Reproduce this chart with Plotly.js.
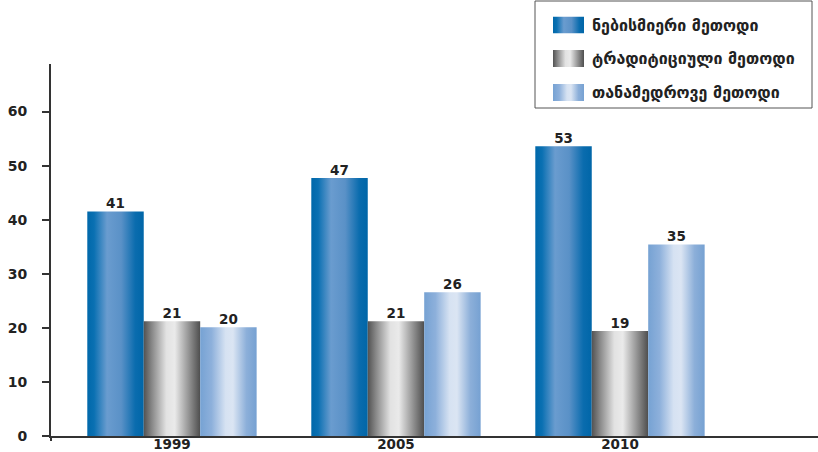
<!DOCTYPE html>
<html>
<head>
<meta charset="utf-8">
<script src="https://cdn.plot.ly/plotly-3.0.1.min.js"></script>
<style>html,body{margin:0;padding:0;background:#fff;}#chart{width:818px;height:452px;}</style>
</head>
<body>
<div id="chart"></div>
<script>
var years = ["1999", "2005", "2010"];
var seriesNames = ["ნებისმიერი მეთოდი", "ტრადიტიციული მეთოდი", "თანამედროვე მეთოდი"];
var anyMethod = [41.5, 47.7, 53.6];
var traditional = [21.2, 21.2, 19.4];
var modern = [20.1, 26.6, 35.4];
var anyLabels = ["41", "47", "53"];
var tradLabels = ["21", "21", "19"];
var modernLabels = ["20", "26", "35"];
var yTicks = [0, 10, 20, 30, 40, 50, 60];

var seriesValues = [anyMethod, traditional, modern];
var seriesLabels = [anyLabels, tradLabels, modernLabels];
var gradients = [
  [[0,'#0068aa'],[0.12,'#0a70b2'],[0.35,'#6a9ccf'],[0.6,'#5a91c7'],[0.85,'#0a6cae'],[1,'#0066a8']],
  [[0,'#525252'],[0.15,'#8a8a8a'],[0.4,'#e2e2e2'],[0.55,'#eaeaea'],[0.78,'#9a9a9a'],[1,'#4e4e4e']],
  [[0,'#76a2d3'],[0.2,'#8db0db'],[0.45,'#d6e2f2'],[0.58,'#dbe5f3'],[0.82,'#8cafd9'],[1,'#76a1d2']]
];
var barWidth = 0.252;
var offsets = [-0.252, 0, 0.252];

var traces = [];
var labelX = [], labelY = [], labelT = [];
for (var s = 0; s < 3; s++) {
  for (var i = 0; i < years.length; i++) {
    var v = seriesValues[s][i];
    var x0 = i + offsets[s] - barWidth / 2;
    var x1 = x0 + barWidth;
    traces.push({
      type: 'scatter', mode: 'lines',
      x: [x0, x1, x1, x0, x0], y: [0, 0, v, v, 0],
      fill: 'toself', line: {width: 0, color: 'rgba(0,0,0,0)'},
      fillgradient: {type: 'horizontal', colorscale: gradients[s]},
      name: seriesNames[s], legendgroup: 's' + s, showlegend: false,
      hoverinfo: 'skip'
    });
    labelX.push(i + offsets[s]);
    labelY.push(v);
    labelT.push(seriesLabels[s][i]);
  }
}
traces.push({
  type: 'scatter', mode: 'text', x: labelX, y: labelY, text: labelT,
  textposition: 'top center', showlegend: false, hoverinfo: 'skip',
  textfont: {family: 'DejaVu Sans', size: 13.5, color: '#222', weight: 'bold'}
});

// legend built from shapes, gradient swatch images and text annotations
var M = {l: 51, r: 0, t: 64, b: 16};
var W = 818, H = 452;
var pw = W - M.l - M.r, ph = H - M.t - M.b;
function px(x) { return (x - M.l) / pw; }
function py(y) { return (H - M.b - y) / ph; }

function swatch(cs) {
  var stops = cs.map(function (c) { return "<stop offset='" + c[0] + "' stop-color='" + c[1] + "'/>"; }).join('');
  var svg = "<svg xmlns='http://www.w3.org/2000/svg' width='31' height='17' preserveAspectRatio='none' viewBox='0 0 31 17'>" +
    "<defs><linearGradient id='g' x1='0' x2='1' y1='0' y2='0'>" + stops + "</linearGradient></defs>" +
    "<rect x='0' y='0' width='31' height='17' fill='url(#g)'/></svg>";
  return 'data:image/svg+xml;charset=utf-8,' + encodeURIComponent(svg);
}

var legendRowsY = [25, 58.5, 92.5];
var images = [], annotations = [];
for (var k = 0; k < 3; k++) {
  images.push({
    source: swatch(gradients[k]), xref: 'paper', yref: 'paper',
    x: px(553), y: py(legendRowsY[k] - 8.5), sizex: 31 / pw, sizey: 17 / ph,
    xanchor: 'left', yanchor: 'top', sizing: 'stretch', layer: 'above'
  });
  annotations.push({
    text: seriesNames[k], xref: 'paper', yref: 'paper',
    x: px(590), y: py(legendRowsY[k]), xanchor: 'left', yanchor: 'middle',
    showarrow: false, font: {family: 'DejaVu Sans', size: 16, color: '#222', weight: 'bold'}
  });
}

var shapes = [
  {type: 'rect', xref: 'paper', yref: 'paper', x0: px(535), x1: px(812), y0: py(108), y1: py(1),
   line: {color: '#555', width: 1}, fillcolor: 'rgba(0,0,0,0)'},
  {type: 'line', xref: 'paper', yref: 'paper', x0: 0, x1: 0, y0: py(436), y1: py(441),
   line: {color: '#333', width: 2}}
];

var layout = {
  width: W, height: H,
  margin: M,
  paper_bgcolor: '#fff', plot_bgcolor: '#fff',
  font: {family: 'DejaVu Sans', color: '#222'},
  xaxis: {
    range: [-0.540, 2.884], tickvals: [0, 1, 2], ticktext: years,
    showgrid: false, zeroline: false, showline: true, linecolor: '#333', linewidth: 2,
    ticks: '', tickfont: {family: 'DejaVu Sans', size: 13.5, color: '#222', weight: 'bold'},
    ticklabelstandoff: -5, fixedrange: true
  },
  yaxis: {
    range: [0, 68.8], tickvals: yTicks,
    showgrid: false, zeroline: false, showline: true, linecolor: '#333', linewidth: 2,
    ticks: 'outside', ticklen: 7, tickwidth: 2, tickcolor: '#333',
    tickfont: {family: 'DejaVu Sans', size: 14, color: '#222', weight: 'bold'},
    ticklabelstandoff: 12, fixedrange: true
  },
  shapes: shapes, images: images, annotations: annotations,
  showlegend: false
};
Plotly.newPlot('chart', traces, layout, {displayModeBar: false, staticPlot: true});
</script>
</body>
</html>
